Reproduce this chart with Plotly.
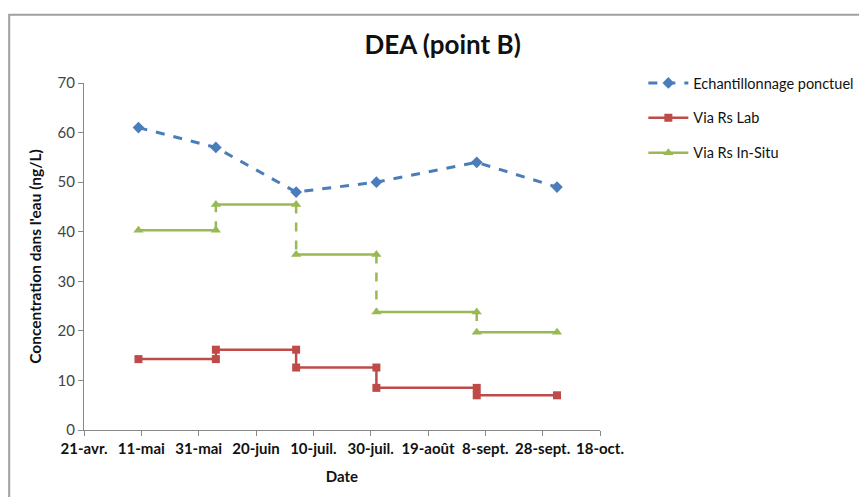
import plotly.graph_objects as go

# sampling dates and values
dates = ["2011-05-10", "2011-06-06", "2011-07-04", "2011-08-01", "2011-09-05", "2011-10-03"]
ponctuel = [61, 57, 48, 50, 54, 49]
# integrative samplers: one value per exposure period (between consecutive dates)
rs_lab = [14.3, 16.2, 12.6, 8.5, 7.0]
rs_insitu = [40.3, 45.5, 35.4, 23.8, 19.7]

tick_vals = ["2011-04-21", "2011-05-11", "2011-05-31", "2011-06-20", "2011-07-10",
             "2011-07-30", "2011-08-19", "2011-09-08", "2011-09-28", "2011-10-18"]
tick_text = ["21-avr.", "11-mai", "31-mai", "20-juin", "10-juil.",
             "30-juil.", "19-août", "8-sept.", "28-sept.", "18-oct."]

BLUE = "#4a7ebb"
RED = "#be4b48"
GREEN = "#98b954"


def steps(vals):
    # continuous staircase path
    xs, ys = [], []
    for i, v in enumerate(vals):
        xs += [dates[i], dates[i + 1]]
        ys += [v, v]
    return xs, ys


def flats(vals):
    # horizontal segments only, broken with None
    xs, ys = [], []
    for i, v in enumerate(vals):
        xs += [dates[i], dates[i + 1], None]
        ys += [v, v, None]
    return xs, ys


def risers(vals):
    xs, ys = [], []
    for i in range(len(vals) - 1):
        xs += [dates[i + 1], dates[i + 1], None]
        ys += [vals[i], vals[i + 1], None]
    return xs, ys


fig = go.Figure()

fig.add_trace(go.Scatter(
    x=dates, y=ponctuel, name="Echantillonnage ponctuel", legendgroup="a",
    mode="lines+markers",
    line=dict(color=BLUE, width=3, dash="dash"),
    marker=dict(symbol="diamond", size=9, color=BLUE),
))

lx, ly = steps(rs_lab)
fig.add_trace(go.Scatter(
    x=lx, y=ly, name="Via Rs Lab", legendgroup="b",
    mode="lines+markers",
    line=dict(color=RED, width=2.5),
    marker=dict(symbol="square", size=8, color=RED),
))

gx, gy = flats(rs_insitu)
fig.add_trace(go.Scatter(
    x=gx, y=gy, name="Via Rs In-Situ", legendgroup="c",
    mode="lines+markers",
    line=dict(color=GREEN, width=2.5),
    marker=dict(symbol="triangle-up", size=9, color=GREEN),
))
vx, vy = risers(rs_insitu)
fig.add_trace(go.Scatter(
    x=vx, y=vy, mode="lines", showlegend=False, hoverinfo="skip", legendgroup="c",
    line=dict(color=GREEN, width=2.5, dash="dash"),
))

# chart-area border (only the top and left edges are visible)
fig.add_shape(type="rect", xref="paper", yref="paper",
              x0=-0.145, x1=1.6, y0=-0.4, y1=1.197,
              line=dict(color="#a0a0a0", width=2))

# page body has an 8px margin, so the figure starts at (8, 8)
fig.update_layout(
    width=859, height=489,
    margin=dict(l=76, r=267, t=75, b=67, autoexpand=False),
    paper_bgcolor="white", plot_bgcolor="white",
    font=dict(family="Lato, Open Sans, sans-serif", color="#222"),
    title=dict(text="<b>DEA (point B)</b>", x=0.506, xanchor="center",
               y=0.925, yanchor="middle", font=dict(size=26, color="#111")),
    xaxis=dict(
        range=["2011-04-21", "2011-10-18"], automargin=False,
        tickvals=tick_vals, ticktext=tick_text,
        tickfont=dict(size=15, color="#111", weight="bold"),
        showgrid=False, showline=True, linecolor="#888", linewidth=1,
        ticks="outside", ticklen=5, tickcolor="#888",
        title=dict(text="<b>Date</b>", font=dict(size=15, color="#111"), standoff=15),
    ),
    yaxis=dict(
        range=[0, 70], dtick=10, automargin=False,
        tickfont=dict(size=15, color="#444"),
        showgrid=False, showline=True, linecolor="#888", linewidth=1,
        ticks="outside", ticklen=5, tickcolor="#888", zeroline=False,
        title=dict(text="<b>Concentration dans l'eau (ng/L)</b>",
                   font=dict(size=15.5, color="#111"), standoff=12),
    ),
    legend=dict(x=1.084, y=1.046, xanchor="left", yanchor="top",
                font=dict(size=14.5, color="#111"), tracegroupgap=13,
                itemwidth=40, bgcolor="rgba(0,0,0,0)"),
)

fig.write_html("out.html")
